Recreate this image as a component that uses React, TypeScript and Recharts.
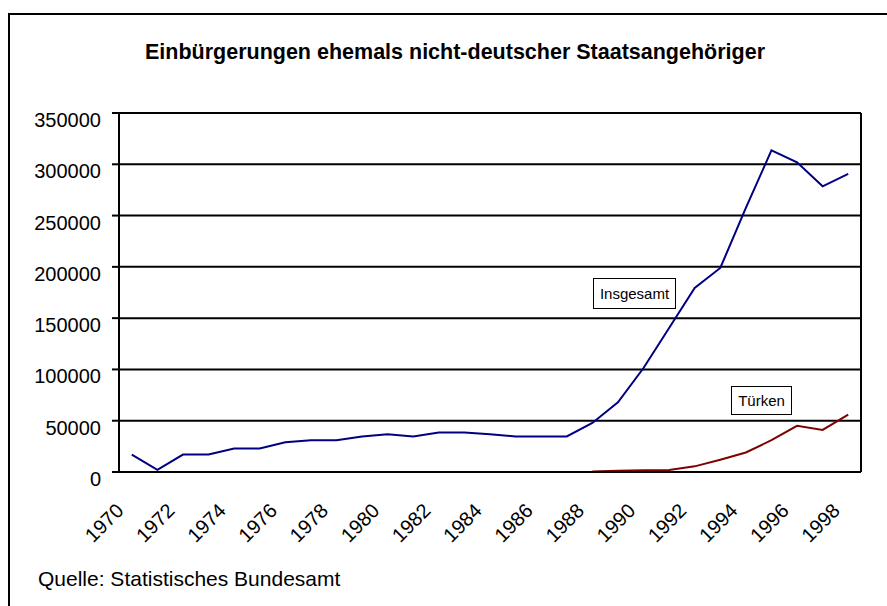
import React from 'react';
import { LineChart, Line, XAxis, YAxis, CartesianGrid, ReferenceLine } from 'recharts';

const years = [
  1970, 1971, 1972, 1973, 1974, 1975, 1976, 1977, 1978, 1979,
  1980, 1981, 1982, 1983, 1984, 1985, 1986, 1987, 1988, 1989,
  1990, 1991, 1992, 1993, 1994, 1995, 1996, 1997, 1998,
];

const insgesamt = [
  17000, 2000, 17000, 17000, 23000, 23000, 29000, 31000, 31000, 34700,
  36700, 34700, 38600, 38600, 36700, 34700, 34700, 34700, 47800, 67900,
  101400, 140400, 179400, 198900, 257400, 313600, 301900, 278500, 290600,
];

const tuerken: (number | null)[] = [
  null, null, null, null, null, null, null, null, null, null,
  null, null, null, null, null, null, null, null, 500, 1300,
  1600, 2000, 5500, 12000, 19000, 31000, 45000, 41000, 56000,
];

const yTicks = [0, 50000, 100000, 150000, 200000, 250000, 300000, 350000];

const data = years.map((year, i) => ({ year, insgesamt: insgesamt[i], tuerken: tuerken[i] }));

// tick marks sit between the years, labels on every second year
const boundaries = [...years.map((y) => y - 0.5), years[years.length - 1] + 0.5];
const labelYears = years.filter((y) => y % 2 === 0);
const domain: [number, number] = [boundaries[0], boundaries[boundaries.length - 1]];

const FONT = '"Liberation Sans", Arial, Helvetica, sans-serif';

const YearTick = (props: any) => {
  const { x, y, payload } = props;
  return (
    <g transform={`translate(${x - 7},${y + 30}) rotate(-45)`}>
      <text x={0} y={0} textAnchor="end" fontSize={20} fontFamily={FONT} fill="#000">
        {payload.value}
      </text>
    </g>
  );
};

const ValueTick = (props: any) => {
  const { x, y, payload } = props;
  return (
    <text x={x} y={y + 14} textAnchor="end" fontSize={20} fontFamily={FONT} fill="#000">
      {payload.value}
    </text>
  );
};

const boxStyle: React.CSSProperties = {
  position: 'absolute',
  border: '1.5px solid #000',
  background: '#fff',
  fontFamily: FONT,
  fontSize: 15,
  display: 'flex',
  alignItems: 'center',
  justifyContent: 'center',
  boxSizing: 'border-box',
};

export default function App() {
  return (
    <div style={{ position: 'absolute', left: 0, top: 0, width: 887, height: 606, background: '#fff', overflow: 'hidden' }}>
      <div
        style={{
          position: 'absolute',
          left: 8,
          top: 13,
          width: 900,
          height: 620,
          borderLeft: '2px solid #000',
          borderTop: '2px solid #000',
        }}
      />
      <div
        style={{
          position: 'absolute',
          left: 0,
          width: 910,
          top: 40,
          textAlign: 'center',
          fontFamily: FONT,
          fontWeight: 'bold',
          fontSize: 21.5,
          color: '#000',
          whiteSpace: 'nowrap',
        }}
      >
        Einbürgerungen ehemals nicht-deutscher Staatsangehöriger
      </div>
      <div style={{ position: 'absolute', left: 0, top: 0 }}>
        <LineChart width={887} height={606} data={data} margin={{ top: 113, right: 26, bottom: 64, left: 0 }}>
          <CartesianGrid vertical={false} stroke="#000" strokeWidth={2} />
          <XAxis
            xAxisId={0}
            dataKey="year"
            type="number"
            domain={domain}
            ticks={boundaries}
            tick={false}
            tickSize={7}
            height={10}
            axisLine={{ stroke: '#000', strokeWidth: 2 }}
            tickLine={{ stroke: '#000', strokeWidth: 2 }}
            allowDataOverflow
          />
          <XAxis
            xAxisId="labels"
            dataKey="year"
            type="number"
            domain={domain}
            ticks={labelYears}
            interval={0}
            tick={<YearTick />}
            tickSize={0}
            tickMargin={0}
            height={60}
            axisLine={false}
            tickLine={false}
            allowDataOverflow
          />
          <YAxis
            domain={[0, 350000]}
            ticks={yTicks}
            interval={0}
            width={119}
            tickSize={7}
            tickMargin={11}
            tick={<ValueTick />}
            axisLine={{ stroke: '#000', strokeWidth: 2 }}
            tickLine={{ stroke: '#000', strokeWidth: 2 }}
          />
          <ReferenceLine x={domain[1]} stroke="#000" strokeWidth={2} />
          <Line
            dataKey="insgesamt"
            stroke="#000080"
            strokeWidth={2}
            dot={false}
            type="linear"
            isAnimationActive={false}
          />
          <Line
            dataKey="tuerken"
            stroke="#800000"
            strokeWidth={2}
            dot={false}
            type="linear"
            connectNulls={false}
            isAnimationActive={false}
          />
        </LineChart>
      </div>
      <div style={{ ...boxStyle, left: 593, top: 278, width: 83, height: 31 }}>Insgesamt</div>
      <div style={{ ...boxStyle, left: 731, top: 386, width: 61, height: 29 }}>Türken</div>
      <div
        style={{
          position: 'absolute',
          left: 38,
          top: 567,
          fontFamily: FONT,
          fontSize: 21,
          color: '#000',
          whiteSpace: 'nowrap',
        }}
      >
        Quelle: Statistisches Bundesamt
      </div>
    </div>
  );
}
